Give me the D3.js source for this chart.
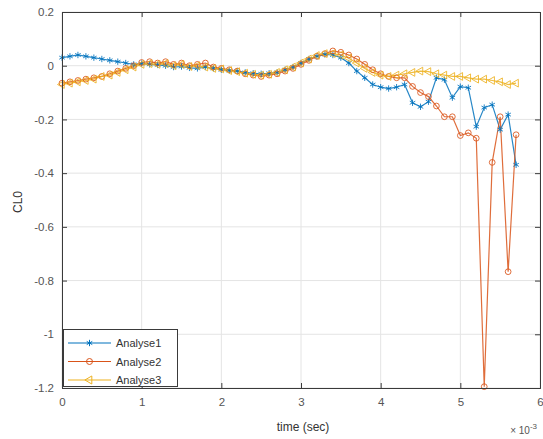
<!DOCTYPE html>
<html><head><meta charset="utf-8">
<script src="https://cdn.jsdelivr.net/npm/d3@7"></script>
<style>body{margin:0;background:#fff;} text{font-family:"Liberation Sans",Arial,sans-serif;}</style>
</head><body><svg id="c" width="543" height="439"></svg>
<script>
const time = [0,0.1,0.2,0.3,0.4,0.5,0.6,0.7,0.8,0.9,1.0,1.1,1.2,1.3,1.4,1.5,1.6,1.7,1.8,1.9,2.0,2.1,2.2,2.3,2.4,2.5,2.6,2.7,2.8,2.9,3.0,3.1,3.2,3.3,3.4,3.5,3.6,3.7,3.8,3.9,4.0,4.1,4.2,4.3,4.4,4.5,4.6,4.7,4.8,4.9,5.0,5.1,5.2,5.3,5.4,5.5,5.6,5.7];
const analyse1 = [0.03,0.035,0.04,0.035,0.03,0.025,0.02,0.015,0.01,0.005,0.008,0.005,0.003,0.0,-0.005,-0.003,-0.008,-0.01,-0.005,-0.01,-0.015,-0.018,-0.02,-0.025,-0.028,-0.03,-0.028,-0.025,-0.015,-0.005,0.01,0.025,0.035,0.042,0.04,0.03,0.01,-0.02,-0.045,-0.07,-0.08,-0.085,-0.08,-0.07,-0.138,-0.153,-0.134,-0.045,-0.052,-0.119,-0.078,-0.082,-0.227,-0.156,-0.145,-0.238,-0.182,-0.369];
const analyse2 = [-0.065,-0.06,-0.055,-0.05,-0.045,-0.04,-0.03,-0.02,-0.01,0.0,0.012,0.015,0.01,0.015,0.005,0.01,0.0,0.005,0.01,-0.005,-0.01,-0.015,-0.02,-0.03,-0.035,-0.04,-0.035,-0.03,-0.02,-0.01,0.005,0.02,0.035,0.045,0.055,0.05,0.04,0.025,0.005,-0.015,-0.03,-0.04,-0.045,-0.045,-0.077,-0.1,-0.115,-0.15,-0.19,-0.19,-0.26,-0.25,-0.27,-1.195,-0.36,-0.19,-0.767,-0.257];
const analyse3 = [-0.07,-0.065,-0.06,-0.055,-0.05,-0.04,-0.035,-0.025,-0.015,-0.005,0.005,0.008,0.005,0.008,0.0,0.005,-0.003,0.0,-0.005,-0.01,-0.012,-0.018,-0.022,-0.028,-0.032,-0.035,-0.032,-0.025,-0.015,-0.005,0.01,0.025,0.038,0.045,0.045,0.04,0.028,0.01,-0.01,-0.025,-0.035,-0.04,-0.035,-0.03,-0.025,-0.02,-0.022,-0.03,-0.035,-0.04,-0.04,-0.045,-0.05,-0.05,-0.055,-0.06,-0.07,-0.065];
const seriesNames = ["Analyse1","Analyse2","Analyse3"];
const xTicks = [0,1,2,3,4,5,6];
const yTicks = [0.2,0,-0.2,-0.4,-0.6,-0.8,-1,-1.2];

const colors = ["#0072BD","#D95319","#EDB120"];
const symbols = [d3.symbolAsterisk, d3.symbolCircle, d3.symbolTriangle];
const rot = [0,0,-90];
const allSeries = [analyse1, analyse2, analyse3];

const svg = d3.select("#c");
const L=62, R=540, T=12, B=388;
const x = d3.scaleLinear().domain([0,6]).range([L,R]);
const y = d3.scaleLinear().domain([-1.2,0.2]).range([B,T]);

// grid
const g = svg.append("g");
g.selectAll(".gx").data(xTicks).join("line").attr("x1",d=>x(d)).attr("x2",d=>x(d)).attr("y1",T).attr("y2",B).attr("stroke","#e4e4e4").attr("stroke-width",1);
g.selectAll(".gy").data(yTicks).join("line").attr("y1",d=>y(d)).attr("y2",d=>y(d)).attr("x1",L).attr("x2",R).attr("stroke","#e4e4e4").attr("stroke-width",1);

// series
const line = d3.line().x((d,i)=>x(time[i])).y(d=>y(d));
allSeries.forEach((s,k)=>{
  svg.append("path").datum(s).attr("d",line).attr("fill","none").attr("stroke",colors[k]).attr("stroke-width",1.2).attr("opacity",0.85);
});
allSeries.forEach((s,k)=>{
  const sym = d3.symbol().type(symbols[k]).size(k===0?28:26);
  svg.append("g").selectAll("path").data(s).join("path")
    .attr("d",sym)
    .attr("transform",(d,i)=>`translate(${x(time[i])},${y(d)}) rotate(${rot[k]})`)
    .attr("fill","none").attr("stroke",colors[k]).attr("stroke-width",1).attr("opacity",0.85);
});

// axes
const ax = svg.append("g").attr("transform",`translate(0,${B})`)
  .call(d3.axisBottom(x).tickValues(xTicks).tickSize(-5).tickPadding(10).tickFormat(d3.format("d")));
const ay = svg.append("g").attr("transform",`translate(${L},0)`)
  .call(d3.axisLeft(y).tickValues(yTicks).tickSize(-5).tickPadding(8).tickFormat(d=>d===0?"0":String(d)));
svg.append("g").attr("transform",`translate(0,${T})`)
  .call(d3.axisTop(x).tickValues(xTicks).tickSize(-5).tickFormat(""));
svg.append("g").attr("transform",`translate(${R},0)`)
  .call(d3.axisRight(y).tickValues(yTicks).tickSize(-5).tickFormat(""));
svg.selectAll(".domain").attr("stroke","#3a3a3a").attr("stroke-width",1);
svg.selectAll(".tick line").attr("stroke","#3a3a3a");
svg.selectAll(".tick text").attr("fill","#555").style("font-size","11.5px");

// labels
svg.append("text").attr("x",303).attr("y",431).attr("text-anchor","middle").attr("fill","#333").style("font-size","12px").text("time (sec)");
svg.append("text").attr("transform","translate(22,202) rotate(-90)").attr("text-anchor","middle").attr("fill","#333").style("font-size","12px").text("CL0");
const ex = svg.append("text").attr("x",537).attr("y",434).attr("text-anchor","end").attr("fill","#555").style("font-size","10px");
ex.append("tspan").text("\u00d7 10");
ex.append("tspan").attr("dy",-5).style("font-size","8px").text("-3");

// legend
const lg = svg.append("g");
lg.append("rect").attr("x",63.5).attr("y",329.5).attr("width",114).attr("height",57).attr("fill","#fff").attr("stroke","#3a3a3a");
seriesNames.forEach((n,k)=>{
  const yy = 343 + k*18.5;
  lg.append("line").attr("x1",68).attr("x2",111).attr("y1",yy).attr("y2",yy).attr("stroke",colors[k]).attr("stroke-width",1.2);
  lg.append("path").attr("d",d3.symbol().type(symbols[k]).size(28)()).attr("transform",`translate(89.5,${yy}) rotate(${rot[k]})`).attr("fill","none").attr("stroke",colors[k]);
  lg.append("text").attr("x",116).attr("y",yy+4).attr("fill","#333").style("font-size","11px").text(n);
});
</script></body></html>
